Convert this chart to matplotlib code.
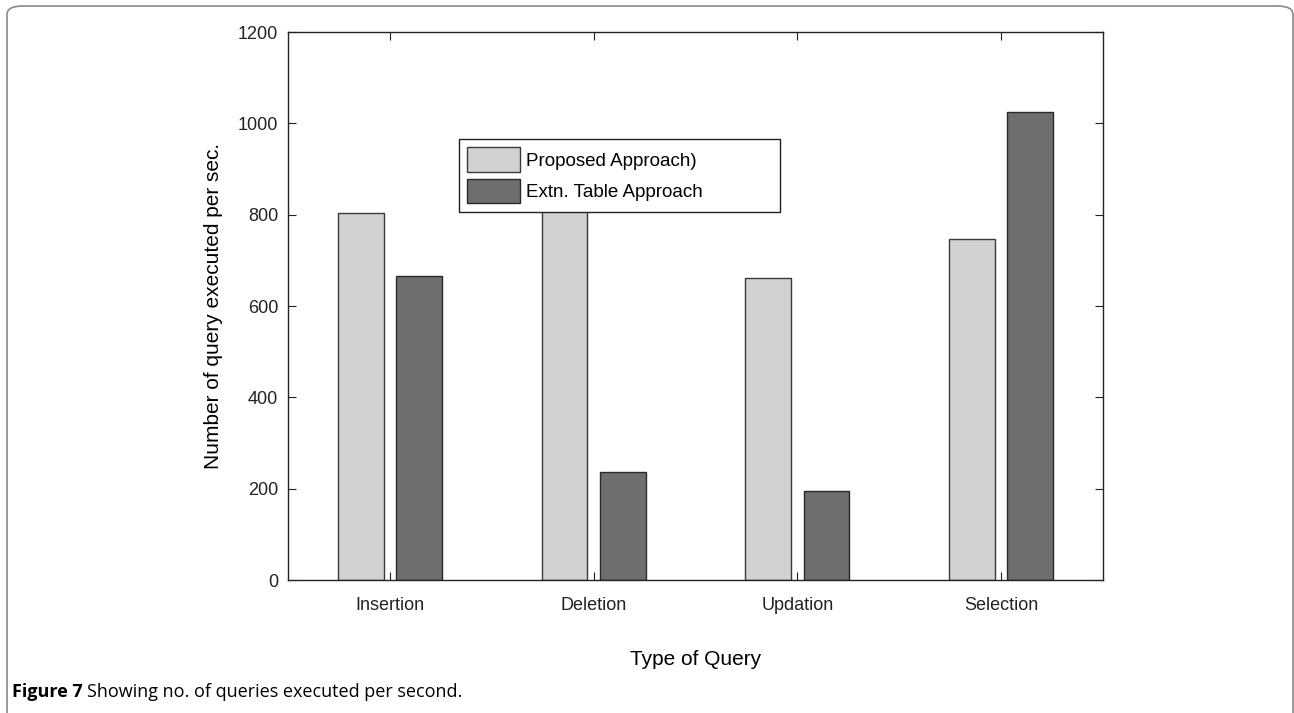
import numpy as np
import matplotlib
matplotlib.use("Agg")
import matplotlib.pyplot as plt
from matplotlib.patches import FancyBboxPatch

plt.rcParams["font.family"] = ["Liberation Sans", "DejaVu Sans"]

query_types = ["Insertion", "Deletion", "Updation", "Selection"]
proposed = [804, 820, 661, 746]
extn_table = [665, 237, 196, 1025]
series_labels = ["Proposed Approach)", "Extn. Table Approach"]
y_ticks = [0, 200, 400, 600, 800, 1000, 1200]

light = "#d1d2d4"
dark = "#6d6e70"

W, H = 1294, 713
fig = plt.figure(figsize=(W / 100, H / 100), dpi=100)
ax = fig.add_axes([0.2226, 0.1865, 0.6298, 0.7686])

x = np.arange(1, len(query_types) + 1)
w = 0.225
off = 0.143
ax.bar(x - off, proposed, w, color=light, edgecolor="#3a3a3a", linewidth=1.0,
       label=series_labels[0])
ax.bar(x + off, extn_table, w, color=dark, edgecolor="#2a2a2a", linewidth=1.0,
       label=series_labels[1])

ax.set_xlim(0.5, 4.5)
ax.set_ylim(0, 1200)
ax.set_xticks(x)
ax.set_xticklabels(query_types)
ax.set_yticks(y_ticks)
ax.tick_params(direction="in", length=6, width=0.8, top=True, right=True,
               labelsize=13, colors="#222222")
ax.tick_params(axis="x", pad=12)
ax.tick_params(axis="y", pad=7)
for s in ax.spines.values():
    s.set_linewidth(1.0)
    s.set_color("#222222")

ax.set_xlabel("Type of Query", fontsize=15, labelpad=26)
ax.set_ylabel("Number of query executed per sec.", fontsize=15, labelpad=11)

leg = ax.legend(loc="upper left", bbox_to_anchor=(0.2098, 0.6697, 0.394, 0.135),
                mode="expand", borderaxespad=0,
                fancybox=False, framealpha=1, edgecolor="#222222", fontsize=13.5,
                handlelength=2.8, handleheight=1.6, handletextpad=0.3,
                labelspacing=0.4, borderpad=0.45)
leg.get_frame().set_linewidth(1.0)

# rounded frame around the whole figure
frame = FancyBboxPatch((7 / W, -0.05), 1286 / W, (H - 6) / H + 0.05,
                       boxstyle="round,pad=0,rounding_size=0.012",
                       transform=fig.transFigure, fill=False,
                       edgecolor="#8a8a8a", linewidth=1.2)
fig.patches.append(frame)

cap_y = 1 - 692 / H
cap_bold = fig.text(12 / W, cap_y, "Figure 7", fontsize=13, va="center",
                    ha="left", family="Open Sans", fontweight="bold")
fig.canvas.draw()
bb = cap_bold.get_window_extent()
fig.text((bb.x1 + 4) / W, cap_y, "Showing no. of queries executed per second.",
         fontsize=13, va="center", ha="left", family="Open Sans")

fig.savefig("out.png", dpi=100)
